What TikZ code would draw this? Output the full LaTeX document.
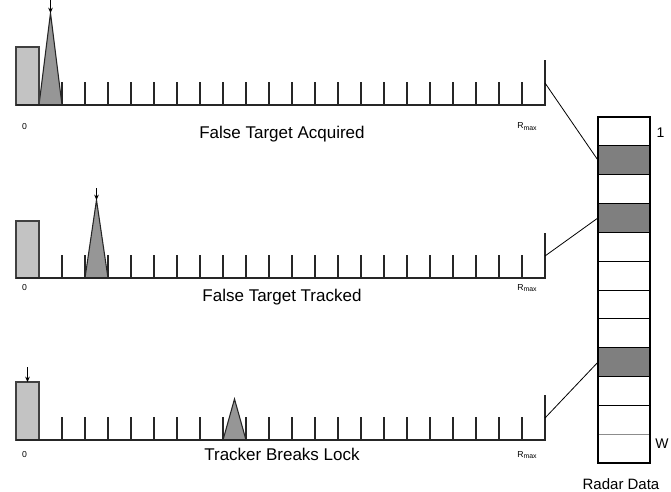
\documentclass[tikz,border=0pt]{standalone}
\usepackage{fontspec}
\setmainfont{Liberation Sans}
\usetikzlibrary{arrows.meta}
\definecolor{barfill}{HTML}{C3C3C3}
\definecolor{peakfill}{HTML}{969696}
\definecolor{cellfill}{HTML}{7F7F7F}

% One range scan: tag, axis y, bar top, peak left x, peak apex y, label y, caption baseline, caption
\newcommand\drawscan[8]{%
  \foreach \k in {1,...,21} \draw[tick] (39+23*\k,#2) -- (39+23*\k,#2-23);
  \draw[peak] (#4,#2) -- (#4+11.5,#5) -- (#4+23,#2) -- cycle;
  \draw[bar] (16,#2) rectangle (39,#3);
  \draw[axis] (16,#2) -- (545,#2) -- (545,#2-45);
  \coordinate (#1-end) at (545,#2-22);
  \coordinate (#1-apex) at (#4+11.5,#5);
  \node[small] (#1-zero) at (24.5,#6) {0};
  \node[small] (#1-rmax) at (527,#6) {R\raisebox{-1.2pt}{\fontsize{5.2}{6}\selectfont max}};
  \node[caption, anchor=base] (#1-cap) at (282,#7) {#8};
}

\begin{document}
\begin{tikzpicture}[x=0.75pt,y=-0.75pt, line join=miter,
  axis/.style={line width=1.1pt, draw=black!85},
  tick/.style={line width=1pt, draw=black!85},
  bar/.style={fill=barfill, draw=black!75, line width=0.8pt},
  peak/.style={fill=peakfill, draw=black!85, line width=0.8pt},
  marker/.style={-{Stealth[length=4pt,width=3.5pt]}, line width=0.6pt},
  caption/.style={font=\fontsize{12.75}{14}\selectfont, inner sep=0},
  small/.style={font=\fontsize{6.5}{7}\selectfont, inner sep=0},
  link/.style={line width=0.6pt},
  cell/.style={draw=black, line width=0.7pt},
  side/.style={font=\fontsize{10.5}{12}\selectfont, inner sep=0},
]
\useasboundingbox (0,0) rectangle (671,492);

% the three scans
\drawscan{acq}{105}{47}{39}{13}{126.5}{138}{False Target Acquired}
\drawscan{trk}{278}{221}{85}{200}{288}{301}{False Target Tracked}
\drawscan{brk}{440}{382}{223}{399}{455}{460}{Tracker Breaks Lock}

% range gate markers
\coordinate (acq-gate) at (50.5,0);
\coordinate (trk-gate) at (96.5,188);
\coordinate (brk-gate) at (27.5,367);
\coordinate (brk-bar) at (27.5,382);
\draw[marker] (acq-gate) -- (acq-apex);
\draw[marker] (trk-gate) -- (trk-apex);
\draw[marker] (brk-gate) -- (brk-bar);

% radar data column: 12 cells
\foreach \i in {1,...,12} {
  \coordinate (cell\i) at (598,{117+28.833*(\i-0.5)});
}
\foreach \i in {2,4,9} {
  \fill[cellfill] (598,{117+28.833*(\i-1)}) rectangle (650,{117+28.833*\i});
}
\foreach \i in {1,...,10} {
  \draw[cell] (598,{117+28.833*\i}) -- (650,{117+28.833*\i});
}
\draw[cell, draw=black!45] (598,{117+28.833*11}) -- (650,{117+28.833*11});
\draw[line width=1.4pt] (598,117) rectangle (650,463);

% links from each scan to its record
\draw[link] (acq-end) -- (cell2);
\draw[link] (trk-end) -- (cell4);
\draw[link] (brk-end) -- (cell9);

\node[side] (first) at (660.5,133) {1};
\node[side] (last) at (662,444) {W};
\node[side, font=\fontsize{11.25}{13}\selectfont] (title) at (621,484) {Radar Data};
\end{tikzpicture}
\end{document}
